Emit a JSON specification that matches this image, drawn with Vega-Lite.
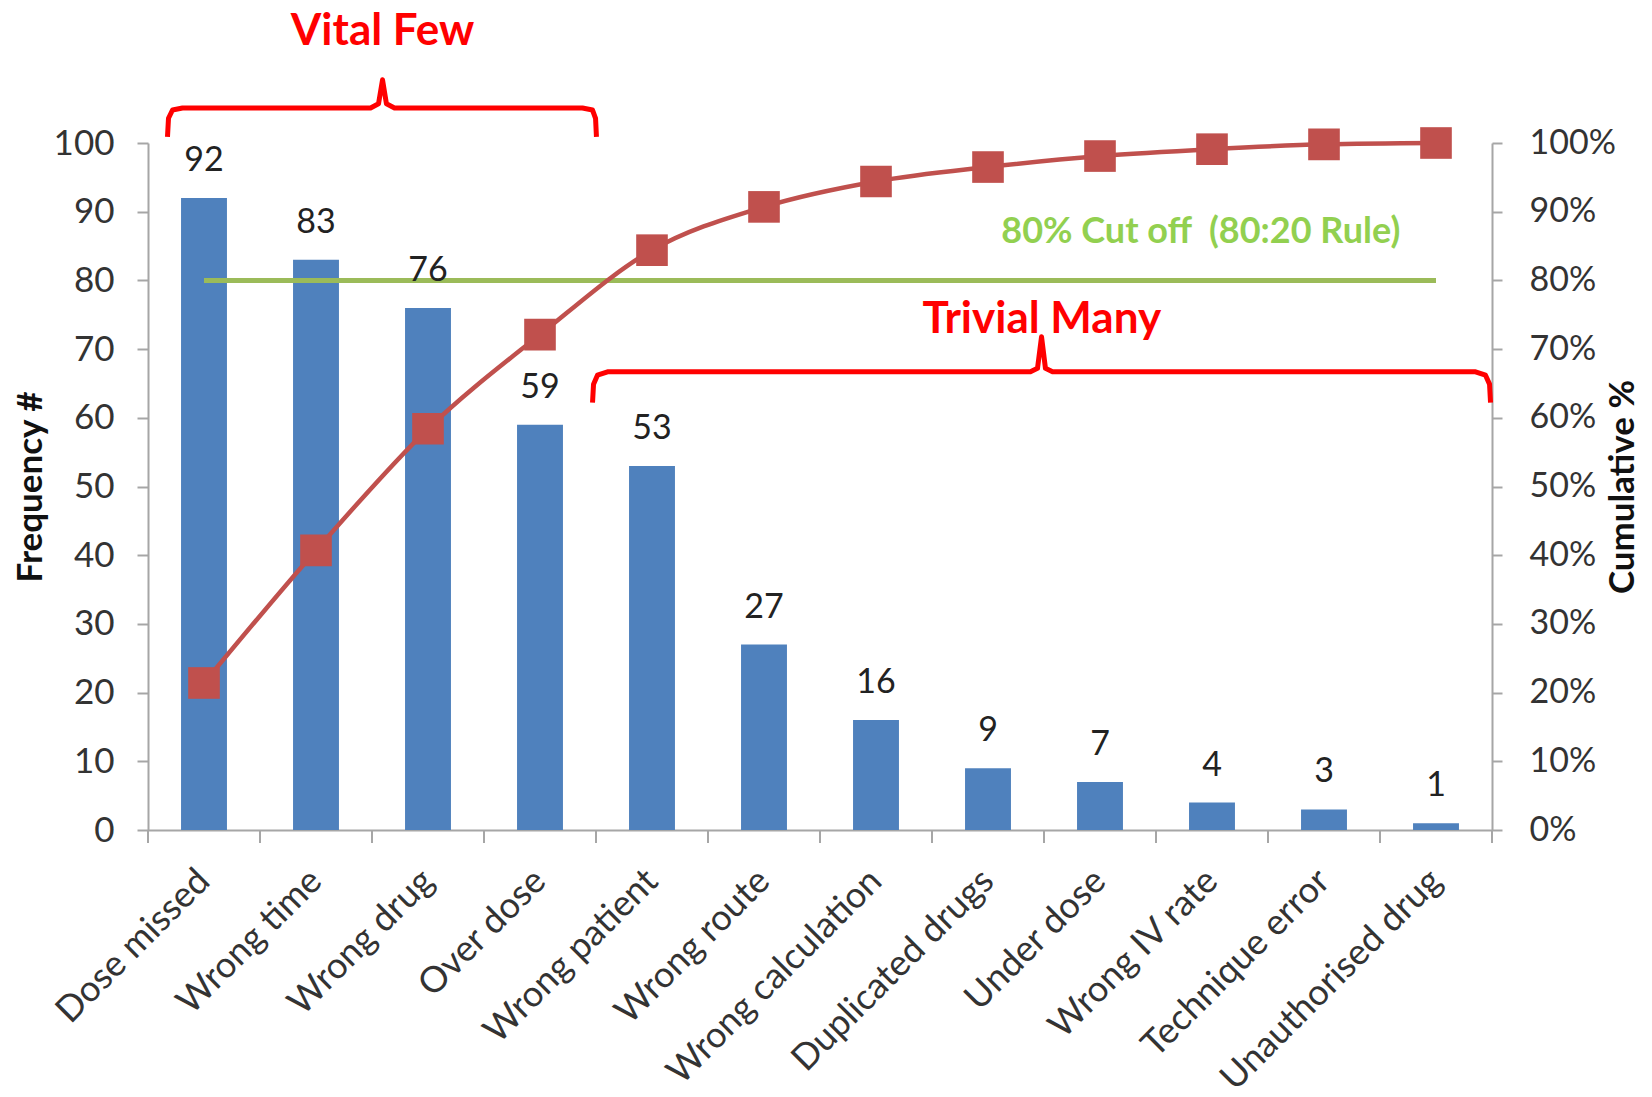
{
  "$schema": "https://vega.github.io/schema/vega-lite/v6.json",
  "autosize": {"type": "none"},
  "padding": {"left": 148, "top": 143, "right": 160, "bottom": 267},
  "width": 1344,
  "height": 687,
  "background": "white",
  "config": {
    "view": {"stroke": null},
    "font": "Lato",
    "axis": {"grid": false, "labelFlush": false, "labelOverlap": false}
  },
  "datasets": {
    "pareto": [
      {"cause": "Dose missed", "freq": 92, "cum": 0.214},
      {"cause": "Wrong time", "freq": 83, "cum": 0.407},
      {"cause": "Wrong drug", "freq": 76, "cum": 0.584},
      {"cause": "Over dose", "freq": 59, "cum": 0.721},
      {"cause": "Wrong patient", "freq": 53, "cum": 0.844},
      {"cause": "Wrong route", "freq": 27, "cum": 0.907},
      {"cause": "Wrong calculation", "freq": 16, "cum": 0.944},
      {"cause": "Duplicated drugs", "freq": 9, "cum": 0.965},
      {"cause": "Under dose", "freq": 7, "cum": 0.981},
      {"cause": "Wrong IV rate", "freq": 4, "cum": 0.991},
      {"cause": "Technique error", "freq": 3, "cum": 0.998},
      {"cause": "Unauthorised drug", "freq": 1, "cum": 1.0}
    ],
    "cutoff": [
      {"cause": "Dose missed", "level": 80},
      {"cause": "Unauthorised drug", "level": 80}
    ],
    "slots": [
      {"pos": 0}, {"pos": 1}, {"pos": 2}, {"pos": 3}, {"pos": 4}, {"pos": 5}, {"pos": 6},
      {"pos": 7}, {"pos": 8}, {"pos": 9}, {"pos": 10}, {"pos": 11}, {"pos": 12}
    ],
    "braces": [
      {"group": "vital", "pos": 0.174, "h": 100.9},
      {"group": "vital", "pos": 0.183, "h": 103.6},
      {"group": "vital", "pos": 0.219, "h": 104.8},
      {"group": "vital", "pos": 0.308, "h": 105.1},
      {"group": "vital", "pos": 1.987, "h": 105.1},
      {"group": "vital", "pos": 2.058, "h": 105.7},
      {"group": "vital", "pos": 2.094, "h": 109.2},
      {"group": "vital", "pos": 2.129, "h": 105.7},
      {"group": "vital", "pos": 2.201, "h": 105.1},
      {"group": "vital", "pos": 3.879, "h": 105.1},
      {"group": "vital", "pos": 3.969, "h": 104.8},
      {"group": "vital", "pos": 3.996, "h": 103.6},
      {"group": "vital", "pos": 4.004, "h": 100.9},
      {"group": "trivial", "pos": 3.969, "h": 62.2},
      {"group": "trivial", "pos": 3.978, "h": 64.9},
      {"group": "trivial", "pos": 4.013, "h": 66.2},
      {"group": "trivial", "pos": 4.103, "h": 66.7},
      {"group": "trivial", "pos": 7.879, "h": 66.7},
      {"group": "trivial", "pos": 7.942, "h": 67.2},
      {"group": "trivial", "pos": 7.978, "h": 71.8},
      {"group": "trivial", "pos": 8.013, "h": 67.2},
      {"group": "trivial", "pos": 8.076, "h": 66.7},
      {"group": "trivial", "pos": 11.853, "h": 66.7},
      {"group": "trivial", "pos": 11.942, "h": 66.2},
      {"group": "trivial", "pos": 11.978, "h": 64.9},
      {"group": "trivial", "pos": 11.987, "h": 62.2}
    ],
    "groupNotes": [
      {"label": "Vital Few", "pos": 2.094, "h": 114.3},
      {"label": "Trivial Many", "pos": 7.98, "h": 72.4}
    ],
    "cutoffNote": [
      {"label": "80% Cut off\u00a0 (80:20 Rule)", "pos": 9.4, "h": 85.4}
    ]
  },
  "resolve": {"scale": {"x": "independent", "y": "independent"}},
  "layer": [
    {
      "data": {"name": "pareto"},
      "mark": {"type": "bar", "color": "#4F81BD"},
      "encoding": {
        "x": {
          "field": "cause", "type": "nominal", "sort": null,
          "scale": {
            "type": "band",
            "domain": ["Dose missed", "Wrong time", "Wrong drug", "Over dose", "Wrong patient", "Wrong route", "Wrong calculation", "Duplicated drugs", "Under dose", "Wrong IV rate", "Technique error", "Unauthorised drug"],
            "paddingInner": 0.59, "paddingOuter": 0.295
          },
          "axis": {
            "orient": "bottom", "title": null,
            "labelAngle": -45, "labelAlign": "right", "labelBaseline": "middle",
            "labelPadding": 45, "labelLimit": 0,
            "labelFont": "Lato", "labelFontSize": 36, "labelColor": "#333333",
            "ticks": false, "domainColor": "#A6A6A6", "domainWidth": 2
          }
        },
        "y": {
          "field": "freq", "type": "quantitative",
          "scale": {"domain": [0, 100], "nice": false, "zero": true},
          "axis": {
            "orient": "left",
            "values": [0, 10, 20, 30, 40, 50, 60, 70, 80, 90, 100],
            "labelFont": "Lato", "labelFontSize": 35, "labelColor": "#333333",
            "labelPadding": 23, "tickSize": 11, "tickWidth": 2, "tickColor": "#A6A6A6",
            "domainColor": "#A6A6A6", "domainWidth": 2,
            "title": "Frequency #", "titleFont": "Lato", "titleFontSize": 35, "titleFontWeight": "bold",
            "titleColor": "#111111", "titleAngle": 270, "titleX": -118, "titleY": 343.5,
            "titleAlign": "center", "titleBaseline": "middle"
          }
        }
      }
    },
    {
      "data": {"name": "slots"},
      "mark": {"type": "rule", "color": "#A6A6A6", "strokeWidth": 2},
      "encoding": {
        "x": {"field": "pos", "type": "quantitative", "scale": {"domain": [0, 12], "nice": false}, "axis": null},
        "y": {"datum": 0, "type": "quantitative", "scale": {"domain": [0, 100], "nice": false}, "axis": null},
        "y2": {"datum": -1.9}
      }
    },
    {
      "data": {"name": "cutoff"},
      "mark": {"type": "line", "color": "#9BBB59", "strokeWidth": 5},
      "encoding": {
        "x": {
          "field": "cause", "type": "nominal", "sort": null,
          "scale": {
            "type": "point",
            "domain": ["Dose missed", "Wrong time", "Wrong drug", "Over dose", "Wrong patient", "Wrong route", "Wrong calculation", "Duplicated drugs", "Under dose", "Wrong IV rate", "Technique error", "Unauthorised drug"],
            "padding": 0.5
          },
          "axis": null
        },
        "y": {"field": "level", "type": "quantitative", "scale": {"domain": [0, 100], "nice": false}, "axis": null}
      }
    },
    {
      "data": {"name": "pareto"},
      "mark": {"type": "text", "font": "Lato", "fontSize": 34, "color": "#222222", "baseline": "alphabetic", "align": "center", "dy": -27},
      "encoding": {
        "x": {
          "field": "cause", "type": "nominal", "sort": null,
          "scale": {
            "type": "point",
            "domain": ["Dose missed", "Wrong time", "Wrong drug", "Over dose", "Wrong patient", "Wrong route", "Wrong calculation", "Duplicated drugs", "Under dose", "Wrong IV rate", "Technique error", "Unauthorised drug"],
            "padding": 0.5
          },
          "axis": null
        },
        "y": {"field": "freq", "type": "quantitative", "scale": {"domain": [0, 100], "nice": false}, "axis": null},
        "text": {"field": "freq", "type": "quantitative"}
      }
    },
    {
      "data": {"name": "pareto"},
      "mark": {
        "type": "line", "color": "#C0504D", "strokeWidth": 4.5, "interpolate": "monotone",
        "point": {"shape": "square", "size": 1000, "filled": true, "color": "#C0504D", "opacity": 1}
      },
      "encoding": {
        "x": {
          "field": "cause", "type": "nominal", "sort": null,
          "scale": {
            "type": "point",
            "domain": ["Dose missed", "Wrong time", "Wrong drug", "Over dose", "Wrong patient", "Wrong route", "Wrong calculation", "Duplicated drugs", "Under dose", "Wrong IV rate", "Technique error", "Unauthorised drug"],
            "padding": 0.5
          },
          "axis": null
        },
        "y": {
          "field": "cum", "type": "quantitative",
          "scale": {"domain": [0, 1], "nice": false},
          "axis": {
            "orient": "right",
            "values": [0, 0.1, 0.2, 0.3, 0.4, 0.5, 0.6, 0.7, 0.8, 0.9, 1],
            "format": ".0%",
            "labelFont": "Lato", "labelFontSize": 34, "labelColor": "#333333", "labelAlign": "left",
            "labelPadding": 27, "tickSize": 10, "tickWidth": 2, "tickColor": "#A6A6A6",
            "domainColor": "#A6A6A6", "domainWidth": 2,
            "title": "Cumulative %", "titleFont": "Lato", "titleFontSize": 35, "titleFontWeight": "bold",
            "titleColor": "#111111", "titleAngle": 270, "titleX": 130, "titleY": 343.5,
            "titleAlign": "center", "titleBaseline": "middle"
          }
        }
      }
    },
    {
      "data": {"name": "braces"},
      "mark": {"type": "line", "color": "#FF0000", "strokeWidth": 5, "strokeJoin": "round", "strokeCap": "butt"},
      "encoding": {
        "x": {"field": "pos", "type": "quantitative", "scale": {"domain": [0, 12], "nice": false}, "axis": null},
        "y": {"field": "h", "type": "quantitative", "scale": {"domain": [0, 100], "nice": false}, "axis": null},
        "detail": {"field": "group", "type": "nominal"}
      }
    },
    {
      "data": {"name": "groupNotes"},
      "mark": {"type": "text", "font": "Lato", "fontSize": 44, "fontWeight": "bold", "color": "#FF0000", "align": "center", "baseline": "alphabetic"},
      "encoding": {
        "x": {"field": "pos", "type": "quantitative", "scale": {"domain": [0, 12], "nice": false}, "axis": null},
        "y": {"field": "h", "type": "quantitative", "scale": {"domain": [0, 100], "nice": false}, "axis": null},
        "text": {"field": "label", "type": "nominal"}
      }
    },
    {
      "data": {"name": "cutoffNote"},
      "mark": {"type": "text", "font": "Lato", "fontSize": 36, "fontWeight": "bold", "color": "#92D050", "align": "center", "baseline": "alphabetic"},
      "encoding": {
        "x": {"field": "pos", "type": "quantitative", "scale": {"domain": [0, 12], "nice": false}, "axis": null},
        "y": {"field": "h", "type": "quantitative", "scale": {"domain": [0, 100], "nice": false}, "axis": null},
        "text": {"field": "label", "type": "nominal"}
      }
    }
  ]
}
